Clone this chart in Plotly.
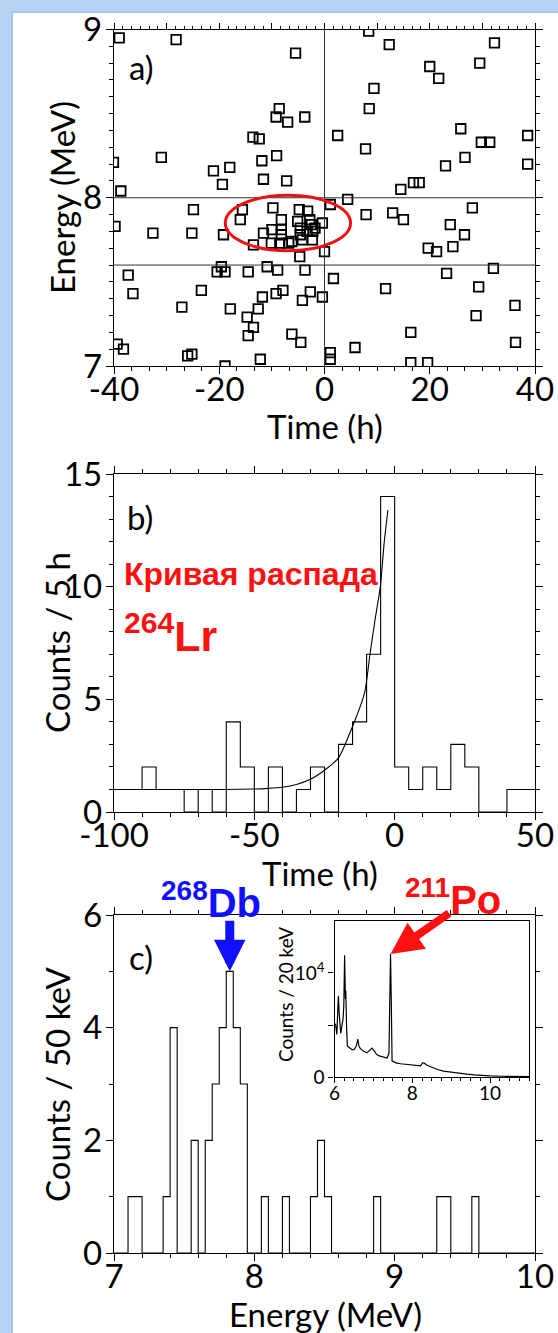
import plotly.graph_objects as go

W, H = 558, 1333
FONT = "Lato"
LABEL_FONT = "Liberation Sans"

# ---------------- panel a: time / energy correlations ----------------
corr_time = [
    -39.0, -28.2, -5.5, -8.6, -9.2, -7.0, -3.75, -13.6, -12.4, -31.0, -11.9, -9.1,
    -21.1, -18.0, -19.4, -11.6, -7.2, -38.7, -40.1,
    8.4, 12.3, 32.3, 29.5, 20.0, 21.7, 9.4, 8.5, 2.5, 7.8, 25.9, 29.8, 31.4, 38.6,
    26.7, 23.0, 38.6, 16.9, 18.0, 14.5, 4.4,
    -24.9, -39.8, -32.6, -25.2, -19.2, -13.5, 0.0, -4.7, -37.3, -36.4, -19.6, -20.4,
    -18.9, -14.5, -10.9, -8.9, -3.7, 1.7, -0.4, -23.4, -27.1, -17.9, -11.8, -9.2,
    -7.9, -2.7, -4.2, -12.6, -14.7, -13.5, -14.5, -6.2, -4.5, -39.4, -38.2, -26.0,
    -25.2, -12.2, -18.9, 1.1, 1.1,
    1.1, -0.4, 7.9, 12.95, 15.0, 28.1, 23.9, 26.6, 19.7, 21.3, 24.4, 32.1, 23.2,
    29.3, 11.6, 36.2, 28.8, 16.4, 5.8, 36.3, 16.4, 19.6,
    -15.6, -9.8, -4.8, -3.2, -16.0, -8.2, -5.1, -2.8, -10.0, -11.6, -8.2, -4.6,
    -2.5, -1.8, -3.3, -2.2, -8.2, -6.2, -4.6, -4.2, -2.3, -10.1, -8.5, -6.8,
]
corr_energy = [
    8.95, 8.94, 8.86, 8.53, 8.48, 8.45, 8.48, 8.36, 8.35, 8.24, 8.22, 8.25,
    8.16, 8.18, 8.08, 8.11, 8.10, 8.04, 8.21,
    8.99, 8.91, 8.92, 8.80, 8.78, 8.71, 8.65, 8.53, 8.37, 8.29, 8.41, 8.33, 8.33, 8.37,
    8.24, 8.19, 8.20, 8.09, 8.09, 8.05, 7.99,
    7.93, 7.83, 7.79, 7.79, 7.78, 7.72, 7.68, 7.65, 7.54, 7.43, 7.59, 7.56,
    7.56, 7.56, 7.59, 7.57, 7.57, 7.52, 7.41, 7.45, 7.35, 7.34, 7.41, 7.43,
    7.45, 7.44, 7.39, 7.34, 7.29, 7.23, 7.18, 7.19, 7.14, 7.13, 7.10, 7.06,
    7.07, 7.04, 7.00, 7.08, 7.04,
    7.96, 7.85, 7.90, 7.91, 7.87, 7.94, 7.84, 7.78, 7.70, 7.68, 7.71, 7.58, 7.55,
    7.47, 7.46, 7.36, 7.30, 7.20, 7.11, 7.14, 7.02, 7.02,
    7.93, 7.94, 7.93, 7.92, 7.87, 7.87, 7.86, 7.87, 7.81, 7.79, 7.81, 7.82,
    7.84, 7.82, 7.80, 7.80, 7.78, 7.74, 7.78, 7.75, 7.75, 7.73, 7.73, 7.73,
]
gate_energies = [7.6, 8.0]
time_zero = 0.0
# highlighted group of correlated events
group_center = (-6.95, 7.85)
group_half_size = (11.9, 0.165)
a_time_ticks = [-40, -20, 0, 20, 40]
a_time_labels = ["-40", "-20", "0", "20", "40"]
a_energy_ticks = [7, 8, 9]

# ---------------- panel b: decay curve ----------------
time_bin_left = [-100, -95, -90, -85, -80, -75, -70, -65, -60, -55, -50, -45, -40, -35, -30,
                 -25, -20, -15, -10, -5, 0, 5, 10, 15, 20, 25, 30, 35, 40, 45]
counts_5h = [1, 1, 2, 1, 1, 0, 1, 0, 4, 2, 0, 2, 0, 1, 2,
             0, 3, 4, 7, 14, 2, 1, 2, 1, 3, 2, 0, 0, 1, 1]
time_bin_width = 5
fit_time = [-100, -60, -50, -45, -40, -35, -30, -25, -20, -15, -10.7, -8.8, -6.9, -5.1, -3.7, -2.4]
fit_counts = [1.0, 1.0, 1.02, 1.05, 1.1, 1.22, 1.45, 1.85, 2.4, 3.8, 5.3, 7.0, 8.6, 10.0, 12.0, 13.4]
b_time_ticks = [-100, -50, 0, 50]
b_time_labels = ["-100", "-50", "0", "50"]
b_count_ticks = [0, 5, 10, 15]

# ---------------- panel c: alpha energy spectrum ----------------
energy_bin_width = 0.05
energy_range = (7.0, 10.0)
filled_bin_low = [7.10, 7.15, 7.35, 7.40, 7.55, 7.65, 7.70, 7.75, 7.80, 7.85, 7.90,
                  8.05, 8.20, 8.40, 8.45, 8.50, 8.85, 9.30, 9.35, 9.55]
filled_bin_counts = [1, 1, 1, 4, 2, 2, 3, 4, 5, 4, 3,
                     1, 1, 1, 2, 1, 1, 1, 1, 1]
db_peak_energy = 7.825
db_peak_counts = 5
c_energy_ticks = [7, 8, 9, 10]
c_count_ticks = [0, 2, 4, 6]

# inset: full spectrum, 20 keV bins
spec_energy = [6.00, 6.03, 6.06, 6.08, 6.10, 6.12, 6.14, 6.16, 6.19, 6.22, 6.24, 6.26, 6.28,
               6.29, 6.31, 6.33, 6.36, 6.40, 6.45, 6.50, 6.55, 6.58, 6.60, 6.63, 6.68, 6.75,
               6.83, 6.90, 6.96, 7.02, 7.08, 7.15, 7.25, 7.35, 7.40, 7.42, 7.44, 7.46, 7.48,
               7.52, 7.60, 7.70, 7.80, 7.95, 8.10, 8.21, 8.27, 8.31, 8.38, 8.50, 8.65, 8.80,
               9.00, 9.20, 9.40, 9.60, 9.80, 10.00, 10.30, 10.60, 11.00]
spec_counts = [5200, 5000, 4100, 5500, 7800, 6200, 4300, 4200, 4900, 5600, 7000, 11700,
               7500, 8300, 4900, 3000, 2900, 2750, 2650, 2650, 2900, 3300, 3650, 2950, 2700,
               2500, 2350, 2550, 2800, 2550, 2200, 2050, 1950, 1850, 2300, 7100, 11800, 7300,
               1550, 1500, 1350, 1300, 1250, 1200, 1150, 1100, 1400, 1350, 1150, 950, 750,
               600, 480, 380, 300, 230, 170, 130, 100, 80, 60]
po_peak_energy = 7.44
po_peak_counts = 11800
inset_energy_ticks = [6, 8, 10]
inset_count_ticks = [0, 10000]
inset_count_labels = ["0", "10<sup>4</sup>"]


def step_xy(lefts, counts, width):
    xs = list(lefts) + [lefts[-1] + width]
    ys = list(counts) + [counts[-1]]
    return xs, ys


# full 50 keV histogram from the filled bins
n_bins = int(round((energy_range[1] - energy_range[0]) / energy_bin_width))
energy_bin_left = [round(energy_range[0] + i * energy_bin_width, 3) for i in range(n_bins)]
counts_50kev = [0] * n_bins
for lo, c in zip(filled_bin_low, filled_bin_counts):
    counts_50kev[int(round((lo - energy_range[0]) / energy_bin_width))] = c

# ---------------- layout geometry (pixels -> paper) ----------------
def px(v):
    return v / W


def py(v):
    return 1 - v / H


X_DOM = [px(114), px(535)]
A_DOM = [py(366), py(29.5)]
B_DOM = [py(812), py(474)]
C_DOM = [py(1253), py(915)]
INSET_X = [px(334.5), px(529)]
INSET_Y = [py(1077.3), py(920.7)]

fig = go.Figure()

fig.add_trace(go.Scatter(
    x=corr_time, y=corr_energy, mode="markers", xaxis="x", yaxis="y",
    marker=dict(symbol="square-open", size=9.5, color="black", line=dict(width=1.8, color="black")),
    showlegend=False, hoverinfo="skip"))
# carrier for the top tick axis of panel a
fig.add_trace(go.Scatter(x=[None], y=[None], xaxis="x5", yaxis="y", showlegend=False,
                         hoverinfo="skip"))

bx, by = step_xy(time_bin_left, counts_5h, time_bin_width)
fig.add_trace(go.Scatter(x=bx, y=by, mode="lines", line=dict(shape="hv", color="black", width=1.1),
                         xaxis="x2", yaxis="y2", showlegend=False, hoverinfo="skip"))
fig.add_trace(go.Scatter(x=fit_time, y=fit_counts, mode="lines",
                         line=dict(shape="spline", smoothing=0.6, color="black", width=1.1),
                         xaxis="x2", yaxis="y2", showlegend=False, hoverinfo="skip"))

cx, cy = step_xy(energy_bin_left, counts_50kev, energy_bin_width)
fig.add_trace(go.Scatter(x=cx, y=cy, mode="lines", line=dict(shape="hv", color="black", width=1.1),
                         xaxis="x3", yaxis="y3", showlegend=False, hoverinfo="skip"))
fig.add_trace(go.Scatter(x=spec_energy, y=spec_counts, mode="lines",
                         line=dict(color="black", width=1.2),
                         xaxis="x4", yaxis="y4", showlegend=False, hoverinfo="skip"))

TICKFONT = dict(family=FONT, size=33, color="black")
SMALLFONT = dict(family=FONT, size=19, color="black")


def axis(**kw):
    base = dict(showline=True, linecolor="black", linewidth=1.3, ticks="outside", ticklen=7,
                tickwidth=1.2, tickcolor="black", mirror="ticks", showgrid=False,
                zeroline=False, tickfont=TICKFONT, automargin=False,
                minor=dict(ticks="outside", ticklen=4, tickwidth=1, tickcolor="black",
                           showgrid=False))
    minor = kw.pop("minor", {})
    base["minor"].update(minor)
    base.update(kw)
    return base


XSTAND = -13
YSTAND = -3

fig.update_layout(
    width=W, height=H, autosize=False, margin=dict(l=0, r=0, t=0, b=0, pad=0, autoexpand=False),
    paper_bgcolor="#b7d2f3", plot_bgcolor="white", showlegend=False,
    xaxis=axis(domain=X_DOM, anchor="y", range=[-40, 40], tickvals=a_time_ticks,
               ticktext=a_time_labels, mirror=True, ticklabelstandoff=XSTAND,
               minor=dict(tick0=-40, dtick=10 / 3)),
    xaxis5=axis(domain=X_DOM, anchor="y", overlaying="x", side="top", range=[-40, 40],
                showline=False, showticklabels=False, tick0=-40, dtick=10, ticklen=6,
                mirror=False, minor=dict(tick0=-40, dtick=10 / 6, ticklen=3)),
    yaxis=axis(domain=A_DOM, anchor="x", range=[7, 9], tickvals=a_energy_ticks,
               ticklabelstandoff=YSTAND, minor=dict(tick0=7, dtick=0.1)),
    xaxis2=axis(domain=X_DOM, anchor="y2", range=[-100, 50], tickvals=b_time_ticks,
                ticktext=b_time_labels, ticklabelstandoff=XSTAND,
                minor=dict(tick0=-100, dtick=10)),
    yaxis2=axis(domain=B_DOM, anchor="x2", range=[0, 15], tickvals=b_count_ticks,
                ticklabelstandoff=YSTAND, minor=dict(tick0=0, dtick=1)),
    xaxis3=axis(domain=X_DOM, anchor="y3", range=[7, 10], tickvals=c_energy_ticks,
                ticklabelstandoff=XSTAND, minor=dict(tick0=7, dtick=0.2)),
    yaxis3=axis(domain=C_DOM, anchor="x3", range=[0, 6], tickvals=c_count_ticks,
                ticklabelstandoff=YSTAND, minor=dict(tick0=0, dtick=1)),
    xaxis4=axis(domain=INSET_X, anchor="y4", range=[6, 11], tickvals=inset_energy_ticks,
                mirror=True, ticklen=5, tickfont=SMALLFONT, ticklabelstandoff=-6,
                minor=dict(tick0=6, dtick=0.25, ticklen=3)),
    yaxis4=axis(domain=INSET_Y, anchor="x4", range=[0, 15000], tickvals=inset_count_ticks,
                ticktext=inset_count_labels, mirror=True, ticklen=5, tickfont=SMALLFONT,
                minor=dict(tickvals=[5000], ticklen=5)),
)

shapes = [
    # white card over the blue frame
    dict(type="rect", xref="paper", yref="paper", x0=px(12), x1=1.05, y0=-0.05, y1=py(12),
         fillcolor="white", line=dict(color="#a6c5ec", width=2), layer="below"),
]
for e in gate_energies:
    shapes.append(dict(type="line", xref="x", yref="y", x0=-40, x1=40, y0=e, y1=e,
                       line=dict(color="#333333", width=1)))
shapes.append(dict(type="line", xref="x", yref="y", x0=time_zero, x1=time_zero, y0=7, y1=9,
                   line=dict(color="#333333", width=1)))
shapes.append(dict(type="circle", xref="x", yref="y",
                   x0=group_center[0] - group_half_size[0], x1=group_center[0] + group_half_size[0],
                   y0=group_center[1] - group_half_size[1], y1=group_center[1] + group_half_size[1],
                   line=dict(color="#ee1111", width=3)))
fig.update_layout(shapes=shapes)

TITLE = dict(family=FONT, size=33, color="black")


def note(text, x, y, font, **kw):
    d = dict(text=text, x=x, y=y, xref="paper", yref="paper", showarrow=False, font=font,
             xanchor="center", yanchor="middle")
    d.update(kw)
    return d


annotations = [
    note("Energy (MeV)", px(62), py(198), TITLE, textangle=-90),
    note("Time (h)", px(325), py(426), TITLE),
    note("Counts / 5 h", px(57), py(643), TITLE, textangle=-90),
    note("Time (h)", px(320), py(873), TITLE),
    note("Counts / 50 keV", px(57), py(1085), TITLE, textangle=-90),
    note("Energy (MeV)", px(325), py(1314), TITLE),
    note("Counts / 20 keV", px(285), py(995), SMALLFONT, textangle=-90),
    note("a)", px(127), py(67), TITLE, xanchor="left"),
    note("b)", px(125), py(517), TITLE, xanchor="left"),
    note("c)", px(127), py(957), TITLE, xanchor="left"),
    note("<b>Кривая распада</b>", px(122), py(574),
         dict(family=LABEL_FONT, size=32, color="#ff1010"), xanchor="left"),
    note("<b><sup>264</sup>Lr</b>", px(122), py(633),
         dict(family=LABEL_FONT, size=43, color="#ff1010"), xanchor="left"),
    note("<b><sup>268</sup>Db</b>", px(159), py(900),
         dict(family=LABEL_FONT, size=40, color="#1010ff"), xanchor="left"),
    note("<b><sup>211</sup>Po</b>", px(403), py(897),
         dict(family=LABEL_FONT, size=40, color="#ff1010"), xanchor="left"),
    dict(text="", x=db_peak_energy, y=db_peak_counts, xref="x3", yref="y3", showarrow=True,
         ax=0, ay=-52, arrowcolor="#1010ff", arrowwidth=9, arrowhead=2, arrowsize=0.7,
         standoff=0),
    dict(text="", x=po_peak_energy, y=po_peak_counts, xref="x4", yref="y4", showarrow=True,
         ax=60, ay=-42, arrowcolor="#ff1010", arrowwidth=8, arrowhead=2, arrowsize=0.8,
         standoff=0),
]
fig.update_layout(annotations=annotations)

fig.write_html("out.html")
